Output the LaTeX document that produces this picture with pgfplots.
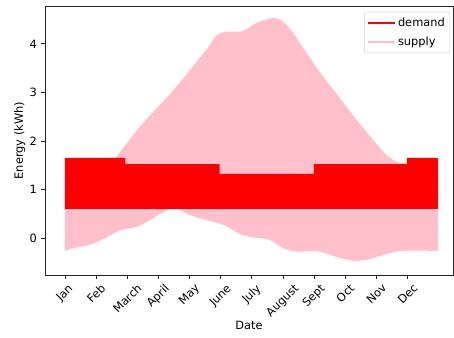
\documentclass[border=0pt]{standalone}
\usepackage{fontspec}
\setmainfont{DejaVu Sans}
\usepackage{graphicx}
\usepackage{pgfplots}
\pgfplotsset{compat=1.18}
\usepgfplotslibrary{fillbetween}
\definecolor{mplpink}{HTML}{FFC0CB}
\definecolor{mplred}{HTML}{FF0000}
\definecolor{spine}{HTML}{262626}
\begin{document}
\fontsize{11.4}{13.7}\selectfont
\begin{tikzpicture}[font=\fontsize{11.4}{13.7}\selectfont]
\begin{axis}[
  name=ax,
  scale only axis, width=408pt, height=269pt,
  xmin=-19.5, xmax=379, ymin=-0.763, ymax=4.78,
  axis line style={spine, line width=0.8pt},
  tick align=outside, tick pos=left, major tick length=4pt,
  tick style={spine, line width=0.8pt},
  xtick={0,30.42,60.83,91.25,121.67,152.08,182.5,212.92,243.33,273.75,304.17,334.58},
  xticklabels={\rotatebox{45}{Jan},\rotatebox{45}{Feb},\rotatebox{45}{March},\rotatebox{45}{April},\rotatebox{45}{May},\rotatebox{45}{June},\rotatebox{45}{July},\rotatebox{45}{August},\rotatebox{45}{Sept},\rotatebox{45}{Oct},\rotatebox{45}{Nov},\rotatebox{45}{Dec}},
  xticklabel style={anchor=north, inner sep=0pt, yshift=-4pt},
  ytick={0,1,2,3,4},
  yticklabel style={inner sep=0pt, xshift=-4pt},
  /pgf/number format/assume math mode=true,
  xlabel={Date}, ylabel={Energy (kWh)},
  xlabel style={inner sep=0pt, yshift=-2pt},
  ylabel style={inner sep=0pt, yshift=4pt},
  legend style={at={(1,1)}, anchor=north east, xshift=-3pt, yshift=-6pt,
    draw=black!18, rounded corners=2pt, fill=white, inner xsep=3pt, inner ysep=3.5pt,
    row sep=5pt},
  legend cell align=left,
  legend image code/.code={\draw[#1, line width=1.6pt] (0pt,0pt) -- (27pt,0pt);},
]
\addplot[name path=supU, draw=none, smooth, forget plot] coordinates {
(0,1.05) (20,1.2) (40,1.45) (50.5,1.68) (73,2.29) (106,3.05) (138,3.88) (148,4.17) (158,4.25) (171,4.25) (177,4.29) (187,4.43) (203,4.53) (213,4.46) (223,4.22) (236,3.81) (252,3.33) (268.6,2.88) (285,2.43) (301,2.02) (314,1.71) (324,1.57) (332,1.54) (345,1.4) (364.5,1.2)};
\addplot[name path=supL, draw=none, smooth, forget plot] coordinates {
(0,-0.27) (8,-0.21) (24.4,-0.14) (40.7,0.01) (53.7,0.16) (70,0.23) (83,0.37) (96,0.53) (107,0.62) (122,0.47) (138,0.37) (154.6,0.27) (171,0.08) (184,0.01) (200,-0.04) (213,-0.21) (226,-0.28) (246,-0.27) (265,-0.39) (281.6,-0.47) (294.6,-0.45) (311,-0.35) (327,-0.27) (346.7,-0.26) (364.5,-0.27)};
\addplot[fill=mplpink, draw=none, forget plot] fill between[of=supU and supL];
\addplot[name path=demU, draw=none, forget plot] coordinates {
(0,1.65) (59,1.65) (59,1.52) (151,1.52) (151,1.32) (243,1.32) (243,1.52) (334,1.52) (334,1.65) (364.5,1.65)};
\addplot[name path=demL, draw=none, forget plot] coordinates {(0,0.6) (364.5,0.6)};
\addplot[fill=mplred, draw=none, forget plot] fill between[of=demU and demL];
\addlegendimage{mplred}
\addlegendentry{demand}
\addlegendimage{mplpink}
\addlegendentry{supply}
\end{axis}
\pgfresetboundingbox
\useasboundingbox ([xshift=-45pt,yshift=-62pt]ax.south west) rectangle ([xshift=1pt,yshift=6pt]ax.north east);
\end{tikzpicture}
\end{document}
